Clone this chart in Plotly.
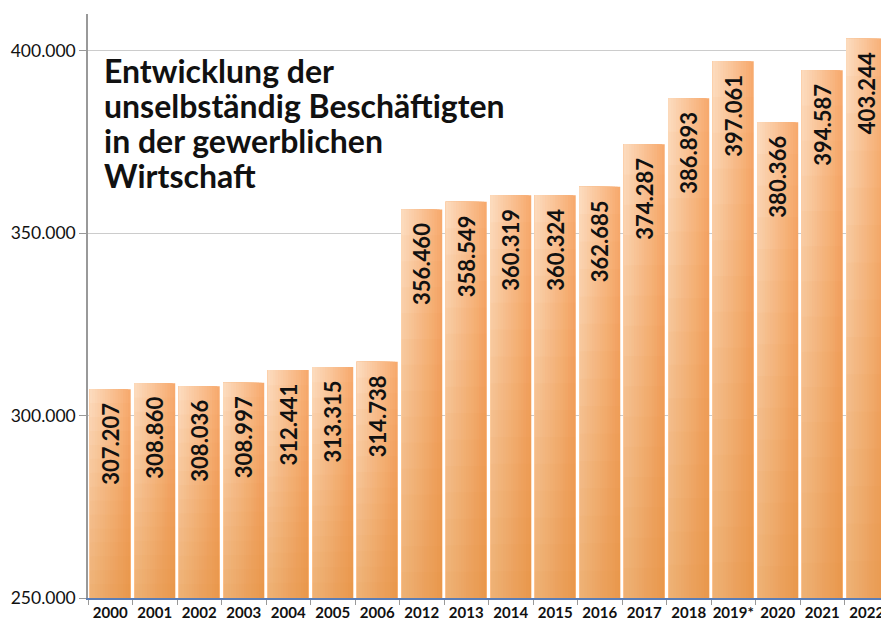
import plotly.graph_objects as go

# ---- data ----
years = ["2000", "2001", "2002", "2003", "2004", "2005", "2006", "2012", "2013",
         "2014", "2015", "2016", "2017", "2018", "2019*", "2020", "2021", "2022"]
employees = [307207, 308860, 308036, 308997, 312441, 313315, 314738, 356460, 358549,
             360319, 360324, 362685, 374287, 386893, 397061, 380366, 394587, 403244]
title_lines = ["Entwicklung der", "unselbständig Beschäftigten",
               "in der gewerblichen", "Wirtschaft"]
y_min, y_max = 250000, 410000

# ---- styling ----
FONT = "Lato"
BAR_W = 0.92
light = (252, 218, 188)
dark = (247, 170, 110)
N_H = 16
N_V = 14

fig = go.Figure()

# horizontal gradient strips (light left -> darker right)
for k in range(N_H):
    t = k / (N_H - 1)
    c = tuple(round(dark[i] + (light[i] - dark[i]) * t) for i in range(3))
    fig.add_trace(go.Bar(
        x=years, y=employees,
        width=BAR_W * (N_H - k) / N_H, offset=-BAR_W / 2,
        marker=dict(color="rgb(%d,%d,%d)" % c, line=dict(width=0)),
        hoverinfo="skip", showlegend=False,
    ))

# vertical darkening toward the bottom
for j in range(1, N_V + 1):
    f = j / (N_V + 1)
    fig.add_trace(go.Bar(
        x=years, y=[(v - y_min) * f for v in employees], base=y_min,
        width=BAR_W, offset=-BAR_W / 2,
        marker=dict(color="rgba(238,128,36,0.042)", line=dict(width=0)),
        hoverinfo="skip", showlegend=False,
    ))

# value labels
fig.add_trace(go.Bar(
    x=years, y=employees,
    width=BAR_W, offset=-BAR_W / 2,
    marker=dict(color="rgba(0,0,0,0)", line=dict(width=0)),
    texttemplate="%{y:,.0f}\u00a0\u00a0", textposition="inside", insidetextanchor="end",
    textangle=-90, constraintext="none",
    textfont=dict(family=FONT, size=22, color="#111111", weight="bold"),
    hoverinfo="skip", showlegend=False,
))

# title
ys = [0.904, 0.844, 0.784, 0.724]
for line, yy in zip(title_lines, ys):
    fig.add_annotation(
        text=line, xref="paper", yref="paper", x=0.0175, y=yy,
        xanchor="left", yanchor="middle", showarrow=False,
        font=dict(family=FONT, size=32, color="#111111", weight="bold"),
    )

# page body has an 8px margin, so the figure is sized to the visible area
fig.update_layout(
    width=881, height=620,
    margin=dict(l=80, r=0, t=6, b=30, autoexpand=False),
    barmode="overlay", bargap=0.08,
    plot_bgcolor="white", paper_bgcolor="white",
    separators=",.",
    font=dict(family=FONT, color="#111111"),
    xaxis=dict(
        type="category", tickson="boundaries", ticks="outside", ticklen=5,
        tickcolor="#999999", tickwidth=1, tickangle=0, automargin=False,
        showline=True, linecolor="#5B7DB5", linewidth=2,
        showgrid=False,
        tickfont=dict(family=FONT, size=15, color="#111111", weight="bold"),
    ),
    yaxis=dict(
        range=[y_min, y_max], dtick=50000, tickformat=",.0f", automargin=False,
        showgrid=True, gridcolor="#CCCCCC", gridwidth=1,
        showline=True, linecolor="#999999", linewidth=1.5,
        ticks="outside", ticklen=7, tickcolor="#999999",
        zeroline=False,
        tickfont=dict(family=FONT, size=17.5, color="#111111"),
    ),
)

fig.write_html("out.html")
